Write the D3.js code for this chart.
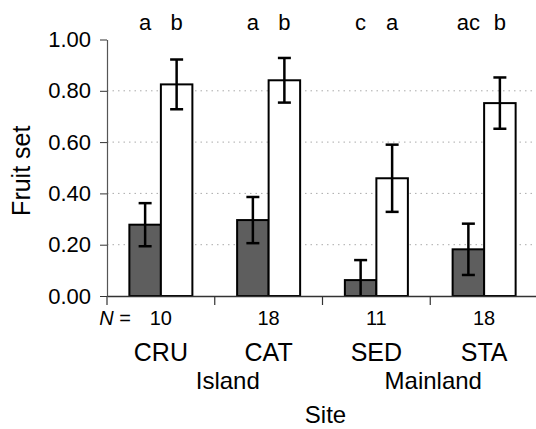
<!DOCTYPE html>
<html>
<head>
<meta charset="utf-8">
<script src="https://cdn.jsdelivr.net/npm/d3@7"></script>
<style>
  body { margin: 0; background: #fff; }
  svg { display: block; font-family: "Liberation Sans", Arial, Helvetica, sans-serif; }
</style>
</head>
<body>
<svg id="chart"></svg>
<script>
// data
const sites = ['CRU', 'CAT', 'SED', 'STA'];
const siteRegion = ['Island', 'Island', 'Mainland', 'Mainland'];
const regions = ['Island', 'Mainland'];
const sampleSizes = [10, 18, 11, 18];
const treatments = ['open', 'hand'];
const openMeans = [0.278, 0.296, 0.062, 0.182];
const openErrors = [0.084, 0.090, 0.078, 0.100];
const handMeans = [0.825, 0.841, 0.459, 0.752];
const handErrors = [0.097, 0.087, 0.131, 0.100];
const openLetters = ['a', 'a', 'c', 'ac'];
const handLetters = ['b', 'b', 'a', 'b'];
const yTicks = [0, 0.2, 0.4, 0.6, 0.8, 1.0];
const gridTicks = [0.2, 0.4, 0.6, 0.8];

const width = 536;
const height = 429;
const margin = {top: 39.5, right: -2, bottom: 133, left: 107};

const svg = d3.select('#chart')
  .attr('width', width)
  .attr('height', height);

// build rows for the bars
let bars = [];
sites.forEach((s, i) => {
  bars.push({site: s, treat: 'open', mean: openMeans[i], err: openErrors[i], letter: openLetters[i]});
  bars.push({site: s, treat: 'hand', mean: handMeans[i], err: handErrors[i], letter: handLetters[i]});
});

// scales
const x = d3.scaleBand()
  .domain(sites)
  .range([margin.left, width - margin.right])
  .padding(0);

const x1 = d3.scaleBand()
  .domain(treatments)
  .range([0, x.bandwidth()])
  .paddingInner(0)
  .paddingOuter(0.71);

const y = d3.scaleLinear()
  .domain([0, 1])
  .range([height - margin.bottom, margin.top]);

const fillFor = {open: '#5e5e5e', hand: '#ffffff'};

// grid lines
svg.append('g')
  .selectAll('line')
  .data(gridTicks)
  .enter().append('line')
  .attr('x1', margin.left)
  .attr('x2', width)
  .attr('y1', d => y(d))
  .attr('y2', d => y(d))
  .attr('stroke', '#aaaaaa')
  .attr('stroke-width', 1)
  .attr('stroke-dasharray', '1.5,4');

// bars
const barX = d => x(d.site) + x1(d.treat);
svg.append('g')
  .selectAll('rect')
  .data(bars)
  .enter().append('rect')
  .attr('x', barX)
  .attr('y', d => y(d.mean))
  .attr('width', x1.bandwidth())
  .attr('height', d => y(0) - y(d.mean))
  .attr('fill', d => fillFor[d.treat])
  .attr('stroke', '#000')
  .attr('stroke-width', 2);

// error bars
const capHalf = 6.5;
const errG = svg.append('g')
  .attr('stroke', '#000')
  .attr('stroke-width', 2.5);
bars.forEach(d => {
  const cx = barX(d) + x1.bandwidth() / 2;
  const top = y(d.mean + d.err);
  const bot = y(Math.max(0, d.mean - d.err));
  errG.append('line').attr('x1', cx).attr('x2', cx).attr('y1', top).attr('y2', bot);
  errG.append('line').attr('x1', cx - capHalf).attr('x2', cx + capHalf).attr('y1', top).attr('y2', top);
  if (d.mean - d.err > 0) {
    errG.append('line').attr('x1', cx - capHalf).attr('x2', cx + capHalf).attr('y1', bot).attr('y2', bot);
  }
});

// significance letters
svg.append('g')
  .selectAll('text')
  .data(bars)
  .enter().append('text')
  .attr('x', d => barX(d) + x1.bandwidth() / 2)
  .attr('y', 29.5)
  .attr('text-anchor', 'middle')
  .style('font-size', '22px')
  .attr('fill', '#000')
  .text(d => d.letter);

// y axis
const yAxis = d3.axisLeft(y)
  .tickValues(yTicks)
  .tickFormat(d3.format('.2f'))
  .tickSizeInner(7)
  .tickSizeOuter(0)
  .tickPadding(9);

const yAxisG = svg.append('g')
  .attr('transform', `translate(${margin.left}, 0)`)
  .call(yAxis);
yAxisG.select('.domain').attr('stroke', '#555').attr('stroke-width', 1.2);
yAxisG.selectAll('.tick line').attr('stroke', '#333');
yAxisG.selectAll('.tick text')
  .style('font-size', '22px')
  .style('font-family', '"Liberation Sans", Arial, sans-serif')
  .attr('fill', '#000');

// x axis
const xAxis = d3.axisBottom(x).tickSize(0).tickFormat('');
const xAxisG = svg.append('g')
  .attr('transform', `translate(0, ${y(0)})`)
  .call(xAxis);
xAxisG.select('.domain').attr('stroke', '#333').attr('stroke-width', 1.5);
xAxisG.selectAll('.tick').remove();

// boundary ticks between sites
svg.append('g')
  .selectAll('line')
  .data(sites)
  .enter().append('line')
  .attr('x1', d => x(d))
  .attr('x2', d => x(d))
  .attr('y1', y(0))
  .attr('y2', y(0) + 9)
  .attr('stroke', '#333')
  .attr('stroke-width', 1.2);

// sample sizes
const nLabel = svg.append('text')
  .attr('x', x(sites[0]) + 24)
  .attr('y', 325)
  .attr('text-anchor', 'end')
  .style('font-size', '20px');
nLabel.append('tspan').style('font-style', 'italic').text('N');
nLabel.append('tspan').text(' =');

svg.append('g')
  .selectAll('text')
  .data(sampleSizes)
  .enter().append('text')
  .attr('x', (d, i) => x(sites[i]) + x.bandwidth() / 2)
  .attr('y', 325)
  .attr('text-anchor', 'middle')
  .style('font-size', '20px')
  .text(d => d);

// site names
svg.append('g')
  .selectAll('text')
  .data(sites)
  .enter().append('text')
  .attr('x', d => x(d) + x.bandwidth() / 2)
  .attr('y', 361)
  .attr('text-anchor', 'middle')
  .style('font-size', '25px')
  .text(d => d);

// region names, centred under their sites
svg.append('g')
  .selectAll('text')
  .data(regions)
  .enter().append('text')
  .attr('x', r => {
    const ss = sites.filter((s, i) => siteRegion[i] === r);
    return d3.mean(ss, s => x(s) + x.bandwidth() / 2);
  })
  .attr('dx', (r, i) => i === 0 ? 13 : 3)
  .attr('y', 388.5)
  .attr('text-anchor', 'middle')
  .style('font-size', '24px')
  .text(r => r);

// axis titles
svg.append('text')
  .attr('x', (margin.left + width - margin.right) / 2 + 3)
  .attr('y', 423)
  .attr('text-anchor', 'middle')
  .style('font-size', '24px')
  .text('Site');

svg.append('text')
  .attr('transform', `translate(29.5, ${(y(0.5) + 3)}) rotate(-90)`)
  .attr('text-anchor', 'middle')
  .style('font-size', '25px')
  .text('Fruit set');
</script>
</body>
</html>
